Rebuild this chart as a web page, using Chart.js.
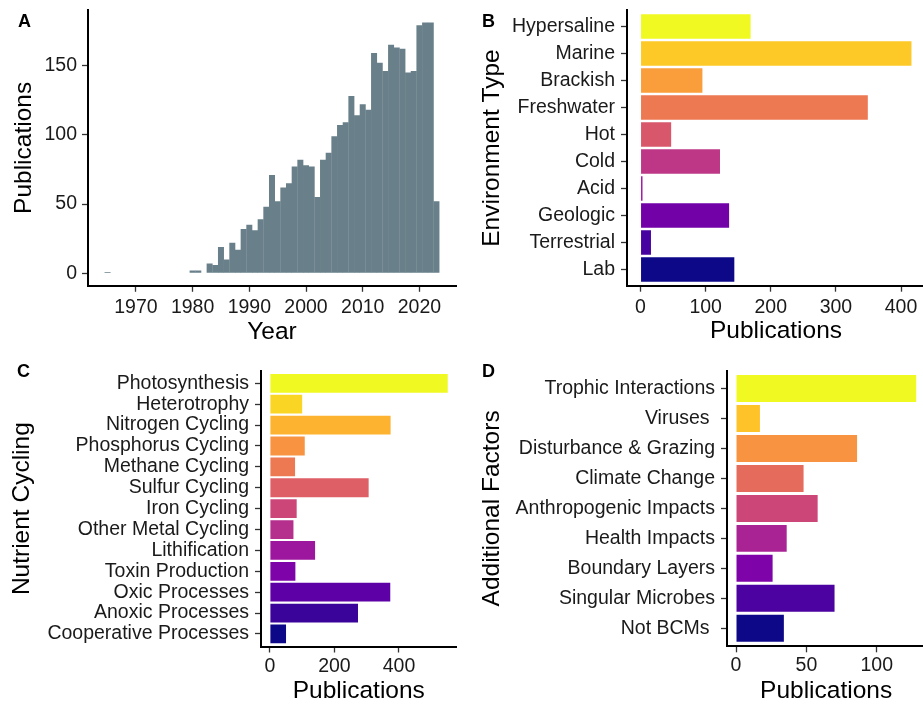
<!DOCTYPE html>
<html>
<head>
<meta charset="utf-8">
<title>Publications by year and category</title>
<script src="https://cdn.jsdelivr.net/npm/chart.js@4.4.7/dist/chart.umd.min.js"></script>
<style>
  html, body { margin: 0; padding: 0; background: #fff; overflow: hidden; }
  #figure { position: relative; width: 923px; height: 706px; overflow: hidden; }
  canvas { position: absolute; }
  .tag { position: absolute; font: bold 18px "Liberation Sans", Arial, sans-serif; color: #000; line-height: normal; }
</style>
</head>
<body>
<div id="figure">
  <canvas id="panelA" width="462" height="353" style="left:0;top:0"></canvas>
  <canvas id="panelB" width="456" height="353" style="left:470px;top:0"></canvas>
  <canvas id="panelC" width="462" height="353" style="left:0;top:353px"></canvas>
  <canvas id="panelD" width="456" height="353" style="left:470px;top:353px"></canvas>
  <div class="tag" style="left:18px;top:11px">A</div>
  <div class="tag" style="left:482px;top:11px">B</div>
  <div class="tag" style="left:17px;top:361px">C</div>
  <div class="tag" style="left:482px;top:361px">D</div>
</div>
<script>
// Panel A: publications per year
const histYears = [1965, 1980, 1981, 1983, 1984, 1985, 1986, 1987, 1988, 1989,
  1990, 1991, 1992, 1993, 1994, 1995, 1996, 1997, 1998, 1999,
  2000, 2001, 2002, 2003, 2004, 2005, 2006, 2007, 2008, 2009,
  2010, 2011, 2012, 2013, 2014, 2015, 2016, 2017, 2018, 2019,
  2020, 2021, 2022, 2023];
const histCounts = [1, 2, 2, 7, 6, 19, 10, 22, 17, 32,
  35, 31, 39, 48, 71, 52, 62, 65, 77, 82,
  78, 77, 55, 82, 87, 99, 107, 109, 128, 114,
  122, 118, 159, 152, 146, 165, 163, 162, 145, 146,
  179, 181, 181, 52];
const yearTicks = [1970, 1980, 1990, 2000, 2010, 2020];
const histTicks = [0, 50, 100, 150];

// Panel B: environment type
const envTypes = ["Hypersaline", "Marine", "Brackish", "Freshwater", "Hot",
  "Cold", "Acid", "Geologic", "Terrestrial", "Lab"];
const envCounts = [169, 416, 95, 349, 47, 122, 3, 136, 16, 144];
const envColors = ["#F0F921", "#FDC926", "#FA9E3B", "#ED7953", "#D8576B",
  "#BD3786", "#9C179E", "#7201A8", "#47039F", "#0D0887"];
const envTicks = [0, 100, 200, 300, 400];

// Panel C: nutrient cycling
const nutrientTypes = ["Photosynthesis", "Heterotrophy", "Nitrogen Cycling",
  "Phosphorus Cycling", "Methane Cycling", "Sulfur Cycling", "Iron Cycling",
  "Other Metal Cycling", "Lithification", "Toxin Production", "Oxic Processes",
  "Anoxic Processes", "Cooperative Processes"];
const nutrientCounts = [551, 100, 374, 108, 78, 306, 83, 73, 140, 79, 373, 273, 50];
const nutrientColors = ["#F0F921", "#FBD524", "#FDB32F", "#F89441", "#ED7953",
  "#DE5F65", "#CC4678", "#B52F8C", "#9C179E", "#7E03A8", "#5D01A6",
  "#3A049A", "#0D0887"];
const nutrientTicks = [0, 200, 400];

// Panel D: additional factors
const factorTypes = ["Trophic Interactions", "Viruses ", "Disturbance & Grazing",
  "Climate Change", "Anthropogenic Impacts", "Health Impacts",
  "Boundary Layers", "Singular Microbes", "Not BCMs "];
const factorCounts = [128, 17, 86, 48, 58, 36, 26, 70, 34];
const factorColors = ["#F0F921", "#FDC328", "#F89441", "#E56B5D", "#CC4678",
  "#A92395", "#7E03A8", "#4C02A1", "#0D0887"];
const factorTicks = [0, 50, 100];

const FONT = '"Liberation Sans", Arial, Helvetica, sans-serif';
const tickFont = { family: FONT, size: 19.5 };
const titleFont = { family: FONT, size: 24.5 };
const TICK_COLOR = "#1a1a1a";

const tickGrid = {
  display: true,
  drawOnChartArea: false,
  drawTicks: true,
  tickLength: 6,
  tickWidth: 1.3,
  tickColor: "#333",
  offset: false,
};
const axisBorder = { display: true, color: "#000", width: 2 };

// force the axis box size so the plot area lands where the figure has it
function fixedSize(prop, size) {
  return (scale) => {
    scale[prop] = size;
    scale.paddingTop = 0;
    scale.paddingBottom = 0;
    scale.paddingLeft = 0;
    scale.paddingRight = 0;
  };
}

function setTicks(values) {
  return (scale) => {
    scale.ticks = values.map((value) => ({ value }));
  };
}

function axisTitle(text, padding) {
  return { display: true, text, font: titleFont, color: "#000", padding };
}

new Chart(document.getElementById("panelA"), {
  type: "bar",
  data: {
    datasets: [
      {
        data: histYears.map((year, i) => ({ x: year, y: histCounts[i] })),
        backgroundColor: "#69808a",
        borderWidth: 0,
        barPercentage: 1.06,
        categoryPercentage: 1,
      },
    ],
  },
  options: {
    responsive: false,
    animation: false,
    layout: { padding: { left: 0, top: 10, right: 6, bottom: 0 } },
    plugins: { legend: { display: false }, tooltip: { enabled: false } },
    scales: {
      x: {
        type: "linear",
        offset: false,
        min: 1961.55,
        max: 2026.45,
        afterBuildTicks: setTicks(yearTicks),
        afterFit: fixedSize("height", 67.2),
        ticks: { font: tickFont, color: TICK_COLOR, padding: 4, maxRotation: 0, autoSkip: false, callback: (v) => String(v) },
        grid: tickGrid,
        border: axisBorder,
        title: axisTitle("Year", { top: 0, bottom: 6 }),
      },
      y: {
        type: "linear",
        min: -9.05,
        max: 190.05,
        afterBuildTicks: setTicks(histTicks),
        afterFit: fixedSize("width", 88),
        ticks: { font: tickFont, color: TICK_COLOR, padding: 5, autoSkip: false, callback: (v) => String(v) },
        grid: tickGrid,
        border: axisBorder,
        title: axisTitle("Publications", { top: 9.5, bottom: 0 }),
      },
    },
  },
});

function drawCategoryBars(id, labels, values, colors, opts) {
  return new Chart(document.getElementById(id), {
    type: "bar",
    data: {
      datasets: [
        {
          data: values.map((value, i) => ({ x: value, y: i })),
          backgroundColor: colors,
          borderWidth: 0,
          barPercentage: 0.9,
          categoryPercentage: 1,
        },
      ],
    },
    options: {
      indexAxis: "y",
      responsive: false,
      animation: false,
      layout: { padding: { left: 0, top: opts.top, right: opts.right, bottom: 0 } },
      plugins: { legend: { display: false }, tooltip: { enabled: false } },
      scales: {
        x: {
          type: "linear",
          offset: false,
          min: opts.min,
          max: opts.max,
          afterBuildTicks: setTicks(opts.ticks),
          afterFit: fixedSize("height", opts.xHeight),
          ticks: { font: tickFont, color: TICK_COLOR, padding: opts.xTickPad, maxRotation: 0, autoSkip: false, callback: (v) => String(v) },
          grid: tickGrid,
          border: axisBorder,
          title: axisTitle("Publications", { top: 0, bottom: opts.xTitlePad }),
        },
        y: {
          type: "linear",
          offset: false,
          reverse: true,
          min: -0.6,
          max: labels.length - 0.4,
          afterBuildTicks: setTicks(labels.map((_, i) => i)),
          afterFit: fixedSize("width", opts.yWidth),
          ticks: { font: tickFont, color: TICK_COLOR, padding: 6, autoSkip: false, callback: (v) => labels[v] },
          grid: tickGrid,
          border: axisBorder,
          title: axisTitle(opts.title, { top: 7.8, bottom: 0 }),
        },
      },
    },
  });
}

drawCategoryBars("panelB", envTypes, envCounts, envColors, {
  title: "Environment Type", min: -20.8, max: 436.8, ticks: envTicks,
  top: 10.3, right: 1, yWidth: 157, xHeight: 67.3, xTickPad: 4, xTitlePad: 7,
});
drawCategoryBars("panelC", nutrientTypes, nutrientCounts, nutrientColors, {
  title: "Nutrient Cycling", min: -27.55, max: 578.55, ticks: nutrientTicks,
  top: 17.8, right: 5.4, yWidth: 261, xHeight: 59.5, xTickPad: 2, xTitlePad: 0.5,
});
drawCategoryBars("panelD", factorTypes, factorCounts, factorColors, {
  title: "Additional Factors", min: -6.4, max: 134.4, ticks: factorTicks,
  top: 17.5, right: 0.8, yWidth: 257, xHeight: 59.7, xTickPad: 2, xTitlePad: 0.5,
});
</script>
</body>
</html>
